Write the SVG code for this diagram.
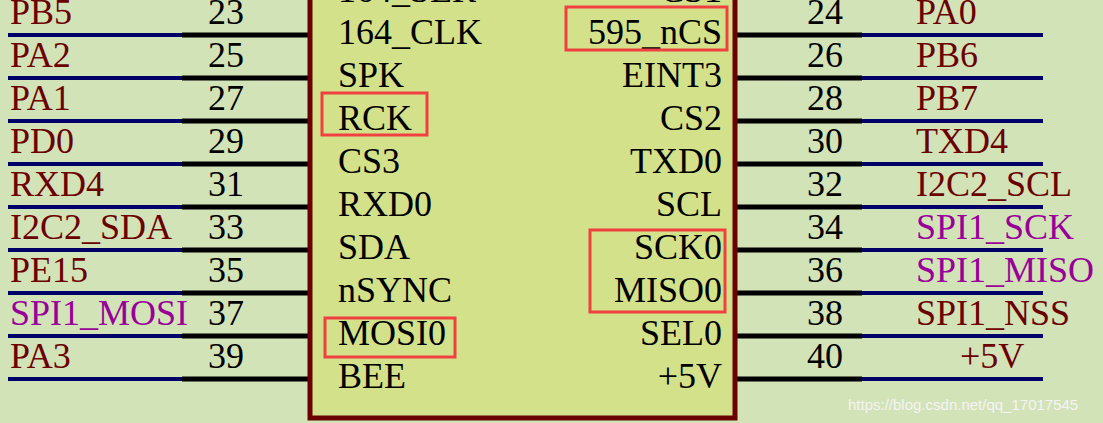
<svg xmlns="http://www.w3.org/2000/svg" width="1103" height="423" viewBox="0 0 1103 423">
<style>
text{font-family:"Liberation Serif",serif;font-size:36px}
.n{fill:#000}.r{fill:#6b0000}.p{fill:#990099}
.bl{stroke:#000068;stroke-width:4}.bk{stroke:#000;stroke-width:5}
.hl{fill:none;stroke:#f04040;stroke-width:3}
</style>
<rect width="1103" height="423" fill="#d3e3b8"/>
<g id="connectors">
<g id="left-wires">
<path class="bl" d="M8 35H182M8 78H182M8 121H182M8 164H182M8 207H182M8 250H182M8 293H182M8 336H182M8 379H182"/>
<path class="bk" d="M182 35H310M182 78H310M182 121H310M182 164H310M182 207H310M182 250H310M182 293H310M182 336H310M182 379H310"/>
</g>
<g id="right-wires">
<path class="bk" d="M735 35H862M735 78H862M735 121H862M735 164H862M735 207H862M735 250H862M735 293H862M735 336H862M735 379H862"/>
<path class="bl" d="M862 35H1043M862 78H1043M862 121H1043M862 164H1043M862 207H1043M862 250H1043M862 293H1043M862 336H1043M862 379H1043"/>
</g>
</g>
<g id="chip">
<rect x="310" y="-10" width="425" height="428" fill="#d3e28a" stroke="#6b0000" stroke-width="5"/>
<g class="n">
<text x="338" y="2">164_SER</text>
<text x="338" y="44">164_CLK</text>
<text x="338" y="87">SPK</text>
<text x="338" y="130">RCK</text>
<text x="338" y="173">CS3</text>
<text x="338" y="216">RXD0</text>
<text x="338" y="259">SDA</text>
<text x="338" y="302">nSYNC</text>
<text x="338" y="345">MOSI0</text>
<text x="338" y="388">BEE</text>
</g>
<g class="n" text-anchor="end">
<text x="722" y="2">CS1</text>
<text x="722" y="44">595_nCS</text>
<text x="722" y="87">EINT3</text>
<text x="722" y="130">CS2</text>
<text x="722" y="173">TXD0</text>
<text x="722" y="216">SCL</text>
<text x="722" y="259">SCK0</text>
<text x="722" y="302">MISO0</text>
<text x="722" y="345">SEL0</text>
<text x="722" y="388">+5V</text>
</g>
<rect class="hl" x="566" y="7" width="161" height="43"/>
<rect class="hl" x="322" y="93" width="105" height="42"/>
<rect class="hl" x="590" y="230" width="135" height="82"/>
<rect class="hl" x="325" y="318" width="130" height="39"/>
</g>
<g id="left-pins">
<g class="n">
<text x="208" y="24">23</text><text x="208" y="67">25</text><text x="208" y="110">27</text>
<text x="208" y="153">29</text><text x="208" y="196">31</text><text x="208" y="239">33</text>
<text x="208" y="282">35</text><text x="208" y="325">37</text><text x="208" y="368">39</text>
</g>
<text class="r" x="10" y="24">PB5</text><text class="r" x="10" y="67">PA2</text>
<text class="r" x="10" y="110">PA1</text><text class="r" x="10" y="153">PD0</text>
<text class="r" x="10" y="196">RXD4</text><text class="r" x="10" y="239">I2C2_SDA</text>
<text class="r" x="10" y="282">PE15</text><text class="p" x="10" y="325">SPI1_MOSI</text>
<text class="r" x="10" y="368">PA3</text>
</g>
<g id="right-pins">
<g class="n">
<text x="807" y="24">24</text><text x="807" y="67">26</text><text x="807" y="110">28</text>
<text x="807" y="153">30</text><text x="807" y="196">32</text><text x="807" y="239">34</text>
<text x="807" y="282">36</text><text x="807" y="325">38</text><text x="807" y="368">40</text>
</g>
<text class="r" x="916" y="24">PA0</text><text class="r" x="916" y="67">PB6</text>
<text class="r" x="916" y="110">PB7</text><text class="r" x="916" y="153">TXD4</text>
<text class="r" x="916" y="196">I2C2_SCL</text><text class="p" x="916" y="239">SPI1_SCK</text>
<text class="p" x="916" y="282">SPI1_MISO</text><text class="r" x="916" y="325">SPI1_NSS</text>
<text class="r" x="960" y="368">+5V</text>
</g>
<text x="848" y="410" style="font-family:'Liberation Sans',sans-serif;font-size:15px;fill:#f4f4f4">https://blog.csdn.net/qq_17017545</text>
</svg>
